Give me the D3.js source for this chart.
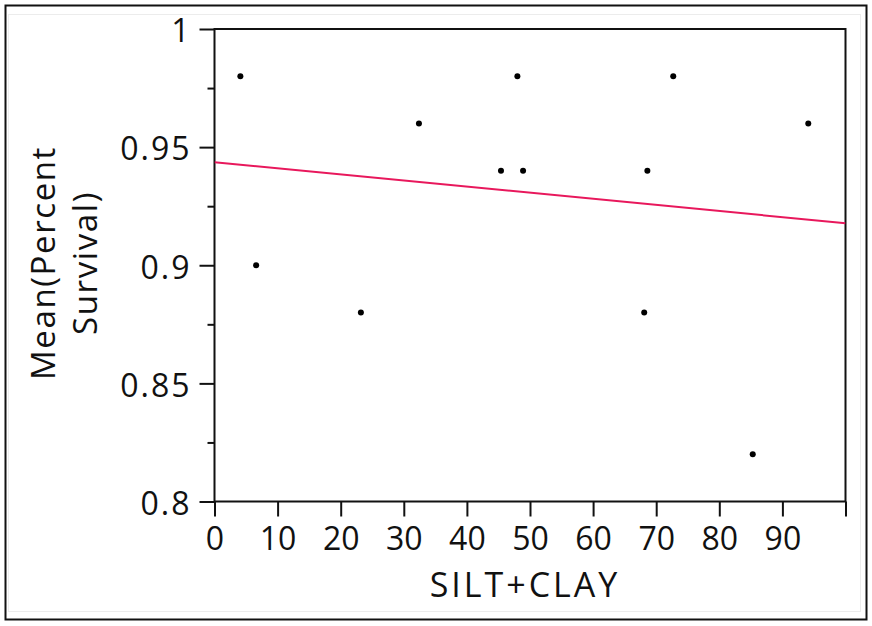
<!DOCTYPE html>
<html>
<head>
<meta charset="utf-8">
<script src="https://cdn.jsdelivr.net/npm/d3@7"></script>
<style>
  html, body { margin: 0; padding: 0; background: #fff; }
  svg { display: block; }
  text { font-family: "Open Sans", "Noto Sans", sans-serif; fill: #111; }
</style>
</head>
<body>
<svg id="chart" width="872" height="626"></svg>
<script>
// ---- data ----
const silt = [4.1, 6.6, 23.2, 32.4, 45.4, 48.0, 48.9, 68.1, 68.6, 72.7, 85.3, 94.1];
const survival = [0.98, 0.90, 0.88, 0.96, 0.94, 0.98, 0.94, 0.88, 0.94, 0.98, 0.82, 0.96];
const fitX = [0, 100];
const fitY = [0.9436, 0.9178];
const xTicks = [0, 10, 20, 30, 40, 50, 60, 70, 80, 90, 100];
const xTickLabels = ["0", "10", "20", "30", "40", "50", "60", "70", "80", "90", ""];
const yTicks = [0.8, 0.85, 0.9, 0.95, 1];
const yTickLabels = ["0.8", "0.85", "0.9", "0.95", "1"];
const yMinorTicks = [0.825, 0.875, 0.925, 0.975];
const xTitle = "SILT+CLAY";
const yTitle = ["Mean(Percent", "Survival)"];

// ---- layout ----
const W = 872, H = 626;
const plot = { left: 214.5, right: 845.5, top: 29, bottom: 501.5 };
const svg = d3.select("#chart");

// outer frame
svg.append("rect").attr("x", 8.5).attr("y", 14.5).attr("width", 852).attr("height", 597)
  .attr("fill", "none").attr("stroke", "#ececec").attr("stroke-width", 1);
svg.append("rect").attr("x", 5.5).attr("y", 5.5).attr("width", 861).attr("height", 614)
  .attr("fill", "none").attr("stroke", "#111").attr("stroke-width", 2);

const x = d3.scaleLinear().domain([0, 100]).range([plot.left, plot.right]);
const y = d3.scaleLinear().domain([0.8, 1]).range([plot.bottom, plot.top]);

// x axis
const xAxis = d3.axisBottom(x).tickValues(xTicks)
  .tickFormat((d, i) => xTickLabels[i]).tickSizeInner(15).tickSizeOuter(0).tickPadding(10);
const gx = svg.append("g").attr("transform", `translate(0,${plot.bottom})`).call(xAxis);
gx.select(".domain").remove();
gx.selectAll(".tick line").attr("stroke", "#111").attr("stroke-width", 2);
gx.selectAll(".tick text").attr("font-size", 32).attr("fill", "#111")
  .attr("font-family", "'Open Sans', sans-serif").attr("dy", "0.72em");

// y axis major
const yAxis = d3.axisLeft(y).tickValues(yTicks)
  .tickFormat((d, i) => yTickLabels[i]).tickSizeInner(15).tickSizeOuter(0).tickPadding(10);
const gy = svg.append("g").attr("transform", `translate(${plot.left},0)`).call(yAxis);
gy.select(".domain").remove();
gy.selectAll(".tick line").attr("stroke", "#111").attr("stroke-width", 2);
gy.selectAll(".tick text").attr("font-size", 32).attr("fill", "#111")
  .attr("font-family", "'Open Sans', sans-serif").attr("dy", "0.4em")
  .attr("letter-spacing", 2).attr("dx", 2);

// y axis minor
const yMinor = d3.axisLeft(y).tickValues(yMinorTicks).tickFormat("")
  .tickSizeInner(7).tickSizeOuter(0);
const gym = svg.append("g").attr("transform", `translate(${plot.left},0)`).call(yMinor);
gym.select(".domain").remove();
gym.selectAll(".tick line").attr("stroke", "#111").attr("stroke-width", 2);

// plot frame
svg.append("rect").attr("x", plot.left).attr("y", plot.top)
  .attr("width", plot.right - plot.left).attr("height", plot.bottom - plot.top)
  .attr("fill", "none").attr("stroke", "#111").attr("stroke-width", 2);

// clip
svg.append("clipPath").attr("id", "clip").append("rect")
  .attr("x", plot.left).attr("y", plot.top)
  .attr("width", plot.right - plot.left).attr("height", plot.bottom - plot.top);

// fit line
const line = d3.line().x(d => x(d[0])).y(d => y(d[1]));
svg.append("path").datum(fitX.map((v, i) => [v, fitY[i]]))
  .attr("d", line).attr("fill", "none").attr("stroke", "#e8185c")
  .attr("stroke-width", 2).attr("clip-path", "url(#clip)");

// points
svg.append("g").selectAll("circle").data(silt.map((v, i) => [v, survival[i]]))
  .join("circle").attr("cx", d => x(d[0])).attr("cy", d => y(d[1]))
  .attr("r", 3).attr("fill", "#000");

// titles
svg.append("text").attr("x", (plot.left + plot.right) / 2 - 5).attr("y", 597)
  .attr("text-anchor", "middle").attr("font-size", 34).attr("letter-spacing", 3)
  .text(xTitle);

const yt = svg.append("text").attr("transform", "translate(55,263) rotate(-90)")
  .attr("text-anchor", "middle").attr("font-size", 33).attr("letter-spacing", 1.6);
yt.append("tspan").attr("x", 0).attr("y", 0).text(yTitle[0]);
yt.append("tspan").attr("x", 0).attr("y", 42).text(yTitle[1]);
</script>
</body>
</html>
